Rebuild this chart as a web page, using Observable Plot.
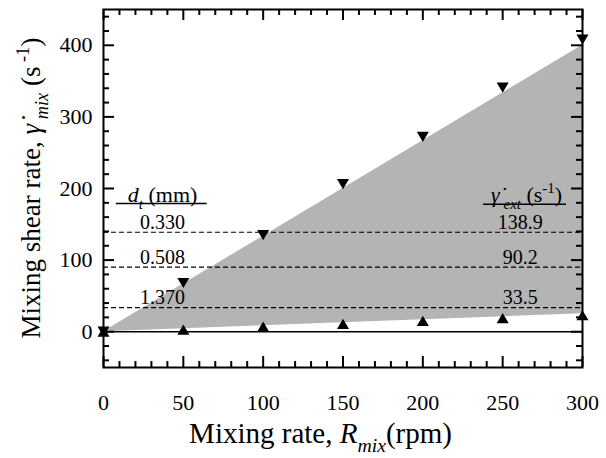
<!DOCTYPE html>
<html><head><meta charset="utf-8">
<script src="https://cdn.jsdelivr.net/npm/d3@7"></script>
<script src="https://cdn.jsdelivr.net/npm/@observablehq/plot@0.6"></script>
<style>body{margin:0;background:#fff}</style>
</head><body><div id="chart"></div>
<script>
// ---- data ----
const mixingRates = [0, 50, 100, 150, 200, 250, 300];
const upperShear = [0, 68, 135, 206, 272, 341, 408];   // ▼ markers
const lowerShear = [0, 3, 7, 11, 15, 19, 23];          // ▲ markers
const bandRates = [0, 300];
const bandUpper = [0, 400];
const bandLower = [0, 25];
const tubeDiameters = ["0.330", "0.508", "1.370"];
const extShearRates = [138.9, 90.2, 33.5];
const xMajorTicks = [0, 50, 100, 150, 200, 250, 300];
const xMinorTicks = [10, 20, 30, 40, 60, 70, 80, 90, 110, 120, 130, 140, 160, 170, 180, 190, 210, 220, 230, 240, 260, 270, 280, 290];
const yMajorTicks = [0, 100, 200, 300, 400];
const yMinorTicks = [-40, -20, 20, 40, 60, 80, 120, 140, 160, 180, 220, 240, 260, 280, 320, 340, 360, 380, 420, 440];

// ---- layout ----
const W = 606, H = 458;
const mT = 9, mB = 91, mL = 103, mR = 24;
const plotH = H - mT - mB, plotW = W - mL - mR;
const xDom = [0, 300], yDom = [-50, 450];
const FONT = "'Liberation Serif', 'Times New Roman', serif";
const majorLen = 11, minorLen = 6;
const kx = (xDom[1] - xDom[0]) / plotW, ky = (yDom[1] - yDom[0]) / plotH;

const leftColX = 37, rightColX = 265;
const headerY = 191;

const band = bandRates.map((x, i) => ({x, lo: bandLower[i], hi: bandUpper[i]}));
const upPts = mixingRates.map((x, i) => ({x, y: upperShear[i]}));
const loPts = mixingRates.map((x, i) => ({x, y: lowerShear[i]}));
const leftLabels = tubeDiameters.map((t, i) => ({t, y: extShearRates[i]}));
const rightLabels = extShearRates.map(v => ({t: v.toFixed(1), y: v}));

function triSymbol(down) {
  return {
    draw(ctx, size) {
      const r = Math.sqrt(size / Math.PI);
      const w = r, h = r * 1.7, s = down ? -1 : 1;
      ctx.moveTo(0, -s * h / 2);
      ctx.lineTo(w, s * h / 2);
      ctx.lineTo(-w, s * h / 2);
      ctx.closePath();
    }
  };
}

const tk = {stroke: "#000", strokeWidth: 2};
const tickMarks = [
  Plot.ruleX(xMajorTicks, {y1: yDom[0], y2: yDom[0] + majorLen * ky, ...tk}),
  Plot.ruleX(xMinorTicks, {y1: yDom[0], y2: yDom[0] + minorLen * ky, ...tk}),
  Plot.ruleX(xMajorTicks, {y1: yDom[1], y2: yDom[1] - majorLen * ky, ...tk}),
  Plot.ruleX(xMinorTicks, {y1: yDom[1], y2: yDom[1] - minorLen * ky, ...tk}),
  Plot.ruleY(yMajorTicks, {x1: xDom[0], x2: xDom[0] + majorLen * kx, ...tk}),
  Plot.ruleY(yMinorTicks, {x1: xDom[0], x2: xDom[0] + minorLen * kx, ...tk}),
  Plot.ruleY(yMajorTicks, {x1: xDom[1], x2: xDom[1] - majorLen * kx, ...tk}),
  Plot.ruleY(yMinorTicks, {x1: xDom[1], x2: xDom[1] - minorLen * kx, ...tk})
];

const chart = Plot.plot({
  width: W, height: H,
  marginTop: mT, marginBottom: mB, marginLeft: mL, marginRight: mR,
  x: {domain: xDom, label: null},
  y: {domain: yDom, label: null},
  style: {fontFamily: FONT, background: "white", color: "black"},
  marks: [
    Plot.areaY(band, {x: "x", y1: "lo", y2: "hi", fill: "#b4b4b4"}),
    Plot.ruleY(extShearRates, {stroke: "black", strokeWidth: 1.2, strokeDasharray: "5,3"}),
    Plot.ruleY([0], {stroke: "black", strokeWidth: 1.5}),
    Plot.dot(upPts, {x: "x", y: "y", r: 6, symbol: triSymbol(true), fill: "black", stroke: null}),
    Plot.dot(loPts, {x: "x", y: "y", r: 6, symbol: triSymbol(false), fill: "black", stroke: null}),
    Plot.text(leftLabels, {x: () => leftColX, y: "y", text: "t", dy: -10, fontSize: 20, fill: "black"}),
    Plot.text(rightLabels, {x: () => rightColX - 4, y: "y", text: "t", dy: -10, fontSize: 20, fill: "black"}),
    Plot.text([0], {x: () => leftColX, y: () => headerY, text: () => "HDR_LEFT", fontSize: 22, fill: "black"}),
    Plot.text([0], {x: () => rightColX, y: () => headerY, text: () => "HDR_RIGHT", fontSize: 22, fill: "black"}),
    Plot.ruleY([179], {x1: 8, x2: 65, stroke: "black", strokeWidth: 1.5}),
    Plot.ruleY([178], {x1: 238, x2: 290, stroke: "black", strokeWidth: 1.5}),
    Plot.axisX(xMajorTicks, {anchor: "bottom", tickSize: 0, tickPadding: 27, fontSize: 22, label: null}),
    Plot.axisY(yMajorTicks, {anchor: "left", tickSize: 0, tickPadding: 11, fontSize: 22, label: null}),
    Plot.frame({stroke: "black", strokeWidth: 2}),
    ...tickMarks
  ]
});

const svg = d3.select(chart.tagName.toLowerCase() === "svg" ? chart : chart.querySelector("svg"));

function rich(el, segs, fs) {
  const sel = d3.select(el);
  sel.text(null);
  let shift = 0;
  for (const s of segs) {
    const ts = sel.append("tspan").text(s.t);
    if (s.it) ts.attr("font-style", "italic");
    const target = s.sub ? fs * 0.3 : s.sup ? -fs * 0.4 : 0;
    if (target !== shift) ts.attr("dy", target - shift);
    shift = target;
    if (s.sub || s.sup) ts.attr("font-size", fs * 0.68);
  }
}
const gamma = "\u03B3\u0307";
svg.selectAll("text").each(function () {
  if (this.textContent === "HDR_LEFT")
    rich(this, [{t: "d", it: true}, {t: "t", it: true, sub: true}, {t: " (mm)"}], 22);
  else if (this.textContent === "HDR_RIGHT")
    rich(this, [{t: gamma, it: true}, {t: " ext", it: true, sub: true}, {t: " (s"}, {t: "-1", sup: true}, {t: ")"}], 22);
});

const xt = svg.append("text")
  .attr("x", mL + plotW / 2 - 22).attr("y", 443)
  .attr("text-anchor", "middle").attr("font-size", 29).attr("fill", "black")
  .attr("font-family", FONT).node();
rich(xt, [{t: "Mixing rate, "}, {t: "R", it: true}, {t: "mix", it: true, sub: true}, {t: "(rpm)"}], 29);

const yt = svg.append("text")
  .attr("transform", `translate(40,${mT + plotH / 2}) rotate(-90)`)
  .attr("text-anchor", "middle").attr("font-size", 27).attr("fill", "black")
  .attr("font-family", FONT).node();
rich(yt, [{t: "Mixing shear rate, "}, {t: gamma, it: true}, {t: " mix", it: true, sub: true}, {t: " (s"}, {t: " -1", sup: true}, {t: ")"}], 27);

document.getElementById("chart").appendChild(chart);
</script>
</body></html>
